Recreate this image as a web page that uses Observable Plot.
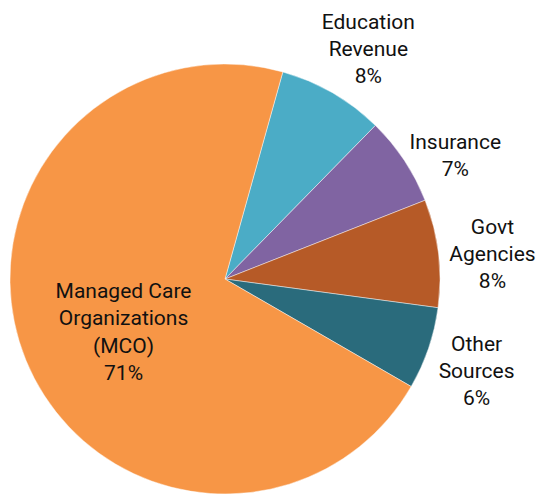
<!DOCTYPE html>
<html>
<head>
<meta charset="utf-8">
<script src="https://cdn.jsdelivr.net/npm/d3@7"></script>
<script src="https://cdn.jsdelivr.net/npm/@observablehq/plot@0.6"></script>
<style>
  html, body { margin: 0; padding: 0; background: #fff; }
  #chart svg { display: block; }
</style>
</head>
<body>
<div id="chart"></div>
<script>
// Data
const categories = ["Education\nRevenue", "Insurance", "Govt\nAgencies", "Other\nSources", "Managed Care\nOrganizations\n(MCO)"];
const shares = [8.0, 6.7, 8.1, 6.2, 71.0];
const shareLabels = ["8%", "7%", "8%", "6%", "71%"];
const colors = ["#4BACC6", "#8064A2", "#B65A27", "#2A6B7C", "#F79646"];

const W = 539, H = 495;
const startDeg = 15.6;

const table = categories.map((c, i) => ({category: c, share: shares[i], label: c + "\n" + shareLabels[i], color: colors[i]}));
const arcs = d3.pie().sort(null).value(d => d.share)
  .startAngle(startDeg * Math.PI / 180)
  .endAngle(startDeg * Math.PI / 180 + 2 * Math.PI)(table);

// label placement (polar, in radius units): radius factor and angular nudge in degrees
const labelR = [1.268, 1.219, 1.248, 1.24, 0.53];
const labelNudge = [1.6, 4.8, 1.1, 0.8, -4.3];
const labelData = arcs.map((a, i) => {
  const ang = (a.startAngle + a.endAngle) / 2 + labelNudge[i] * Math.PI / 180;
  return {x: labelR[i] * Math.sin(ang), y: labelR[i] * Math.cos(ang), label: a.data.label};
});

// scale: pie radius = 1 unit; center placed in the view
const R = 215;
const cx = 225, cy = 279;

const chart = Plot.plot({
  width: W,
  height: H,
  margin: 0,
  x: {domain: [-cx / R, (W - cx) / R], axis: null},
  y: {domain: [-(H - cy) / R, cy / R], axis: null},
  style: {fontFamily: "Roboto, 'Liberation Sans Narrow', sans-serif", background: "#fff"},
  marks: [
    (index, scales) => {
      const g = d3.create("svg:g");
      const x0 = scales.x(0), y0 = scales.y(0);
      const r = scales.x(1) - scales.x(0);
      const arc = d3.arc().innerRadius(0).outerRadius(r);
      g.attr("transform", `translate(${x0},${y0})`)
        .selectAll("path").data(arcs).join("path")
        .attr("d", arc)
        .attr("fill", d => d.data.color)
        .attr("stroke", "#ffffff")
        .attr("stroke-opacity", 0.6)
        .attr("stroke-width", 0.75);
      return g.node();
    },
    Plot.text(labelData, {
      x: "x", y: "y", text: "label",
      fontSize: 21, lineHeight: 1.3, lineAnchor: "middle", textAnchor: "middle",
      fill: "#111"
    })
  ]
});
document.getElementById("chart").append(chart);
</script>
</body>
</html>
